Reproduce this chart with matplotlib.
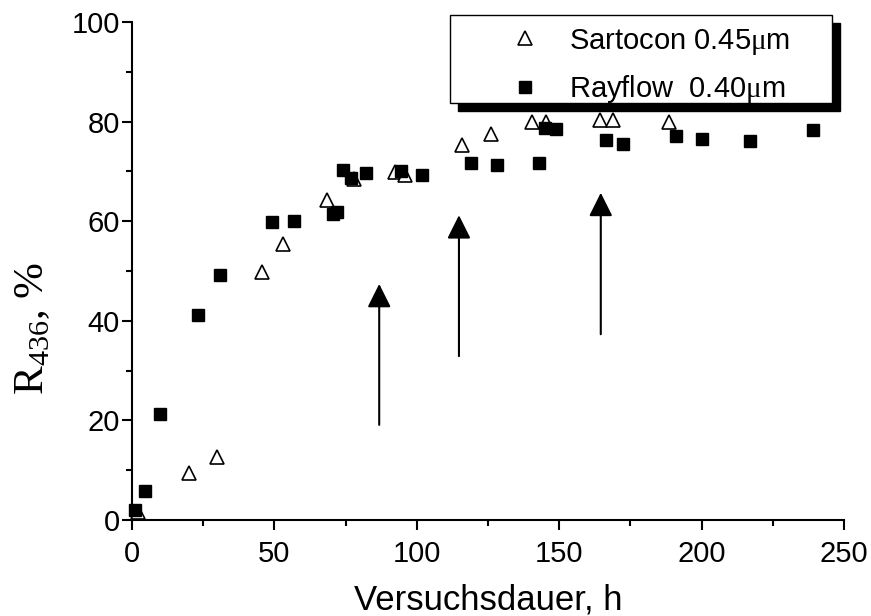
import matplotlib
matplotlib.use("Agg")
import matplotlib.pyplot as plt
from matplotlib.patches import Rectangle

# retention R436 over run time for the two membranes
sartocon_t = [2, 20, 30, 45.5, 53, 68.5, 78, 92.5, 96, 116, 126, 140.5, 145.5, 164.5, 169, 188.5]
sartocon_r = [1.6, 9.4, 12.6, 49.7, 55.4, 64.3, 68.5, 69.8, 69.3, 75.3, 77.5, 80, 80, 80.3, 80.3, 80]

rayflow_t = [1, 4.5, 10, 23, 31, 49, 57, 70.5, 72, 74, 77, 82, 94.5, 102,
             119, 128, 143, 145, 149, 166.5, 172.5, 191, 200, 217, 239]
rayflow_r = [2, 5.8, 21.3, 41.1, 49.1, 59.9, 60, 61.4, 61.8, 70.2, 68.7, 69.7, 70, 69.2,
             71.6, 71.3, 71.7, 78.8, 78.5, 76.3, 75.6, 77.2, 76.6, 76.2, 78.4]

# vertical arrows (time, start, end)
arrow_t = [86.8, 114.8, 164.6]
arrow_from = [19.1, 32.9, 37.3]
arrow_to = [47.4, 61.2, 65.7]

plt.rcParams['font.family'] = ['Liberation Sans', 'DejaVu Sans']
plt.rcParams['mathtext.fontset'] = 'custom'
plt.rcParams['mathtext.rm'] = 'Liberation Serif'

fig = plt.figure(figsize=(8.71, 6.16), dpi=100)
ax = fig.add_axes([132/871, 1-520/616, 712/871, 498/616])

ax.plot(sartocon_t, sartocon_r, ls='none', marker='^', ms=10, mfc='white', mec='black',
        mew=1.2, clip_on=False, zorder=3, label=r'Sartocon 0.45$\mathrm{\mu}$m')
ax.plot(rayflow_t, rayflow_r, ls='none', marker='s', ms=9, mfc='black', mec='black',
        clip_on=False, zorder=4, label=r'Rayflow  0.40$\mathrm{\mu}$m')

for t, a, b in zip(arrow_t, arrow_from, arrow_to):
    ax.annotate('', xy=(t, b), xytext=(t, a),
                arrowprops=dict(arrowstyle='-|>,head_length=1,head_width=0.5',
                                mutation_scale=14.4, lw=1.5, color='black',
                                shrinkA=0, shrinkB=0))

ax.set_xlim(0, 250)
ax.set_ylim(0, 100)
ax.set_xticks([0, 50, 100, 150, 200, 250])
ax.set_xticks([25, 75, 125, 175, 225], minor=True)
ax.set_yticks([0, 20, 40, 60, 80, 100])
ax.set_yticks([10, 30, 50, 70, 90], minor=True)
for s in ['top', 'right']:
    ax.spines[s].set_visible(False)
for s in ['left', 'bottom']:
    ax.spines[s].set_linewidth(1.5)
ax.tick_params(which='major', length=7.2, width=1.5, labelsize=21)
ax.tick_params(which='minor', length=4.3, width=1.5)
ax.tick_params(axis='x', which='major', pad=7)
ax.tick_params(axis='y', which='major', pad=1.5)

ax.set_xlabel('Versuchsdauer, h', fontsize=25)
ax.xaxis.set_label_coords(0.5, -0.128)
ax.set_ylabel(r'$\mathrm{R}_{436}$, %', fontsize=31, family='Liberation Serif')
ax.yaxis.set_label_coords(-0.112, 0.385)

# legend frame with a solid drop shadow
x0, x1 = (450-132)/712, (832-132)/712
y0, y1 = (520-103)/498, (520-15)/498
dx, dy = 8/712, 8/498
ax.add_patch(Rectangle((x0+dx, y0-dy), x1-x0, y1-y0, transform=ax.transAxes,
                       facecolor='black', edgecolor='black', clip_on=False, zorder=5))
ax.add_patch(Rectangle((x0, y0), x1-x0, y1-y0, transform=ax.transAxes,
                       facecolor='white', edgecolor='black', lw=1, clip_on=False, zorder=6))
leg = ax.legend(loc='center', bbox_to_anchor=((650-132)/712, (520-66)/498),
                frameon=False, fontsize=21, handlelength=1.0, handletextpad=1.0,
                labelspacing=0.58, borderaxespad=0)
leg.set_zorder(7)

fig.savefig('out.png', dpi=100)
